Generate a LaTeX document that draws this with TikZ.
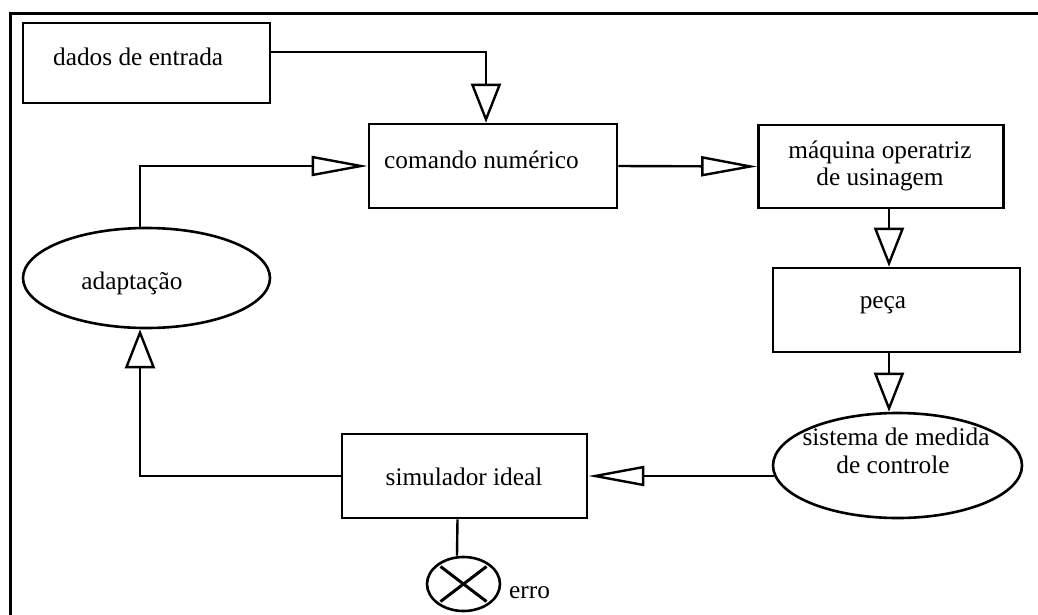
\documentclass[tikz,border=0pt]{standalone}
\usepackage{fontspec}
\setmainfont{Liberation Serif}
\usetikzlibrary{arrows.meta,shapes.geometric}
\begin{document}
\begin{tikzpicture}[x=1pt,y=-1pt,
  every node/.style={font=\fontsize{25.3}{30}\selectfont},
  box/.style={draw, line width=2.6pt, rectangle, inner sep=0pt},
  oval/.style={draw, line width=2.6pt, ellipse, inner sep=0pt},
  txt/.style={inner sep=0pt, anchor=base},
  link/.style={line width=2.4pt},
  varrow/.style={link, -{Triangle[open, length=39pt, width=30pt]}},
  harrow/.style={link, -{Triangle[open, length=56pt, width=20pt]}},
  xline/.style={line width=3pt},
]
\useasboundingbox (0,0) rectangle (1038,614);

% outer frame (open on the right and at the bottom)
\draw[line width=3pt] (10,620) -- (10,13) -- (1045,13);

% blocks
\node[box, minimum width=247pt, minimum height=80pt] (dados) at (146.5,63) {};
\node[txt, anchor=base west] (dadosT) at (53,65) {dados de entrada};

\node[box, minimum width=248pt, minimum height=84pt] (cmd) at (493,166) {};
\node[txt, anchor=base west] (cmdT) at (384,168) {comando numérico};

\node[box, minimum width=245pt, minimum height=83pt] (maq) at (881,166.5) {};
\node[txt] (maqA) at (880,158) {máquina operatriz};
\node[txt] (maqB) at (880,185) {de usinagem};

\node[box, minimum width=247pt, minimum height=84pt] (peca) at (896.5,310) {};
\node[txt] (pecaT) at (883,308) {peça};

\node[oval, minimum width=249pt, minimum height=105pt] (med) at (897.5,465.5) {};
\node[txt] (medA) at (896,445) {sistema de medida};
\node[txt] (medB) at (893,473) {de controle};

\node[box, minimum width=245pt, minimum height=84pt] (sim) at (464.5,476) {};
\node[txt] (simT) at (464,485) {simulador ideal};

\node[oval, minimum width=247pt, minimum height=100pt] (adapt) at (146.5,278) {};
\node[txt] (adaptT) at (132,289) {adaptação};

% error summing point
\node[oval, minimum width=73pt, minimum height=54pt] (erro) at (463.5,584) {};
\draw[xline] ([shift={(-23pt,17.5pt)}]erro.center) -- ([shift={(23pt,-17.5pt)}]erro.center);
\draw[xline] ([shift={(-23pt,-17.5pt)}]erro.center) -- ([shift={(23pt,17.5pt)}]erro.center);
\node[txt, anchor=base west] (erroT) at (509,598) {erro};

% connections
\draw[varrow] ([yshift=11pt]dados.east) -| ([xshift=-7pt]cmd.north);
\draw[harrow] ([xshift=-6.5pt]adapt.north) |- (cmd.west);
\draw[harrow] (cmd.east) -- (maq.west);
\draw[varrow] ([xshift=8pt]maq.south) -- ([xshift=-7.5pt]peca.north);
\draw[varrow] ([xshift=-7.5pt]peca.south) -- ([xshift=-8.5pt]med.north);
\draw[harrow] ([shift={(2.5pt,-10.5pt)}]med.west) -- (sim.east);
\draw[varrow] (sim.west) -| ([xshift=-6.5pt]adapt.south);
\draw[link] ([xshift=-7pt]sim.south) -- ([xshift=-6.5pt]erro.north);
\end{tikzpicture}
\end{document}
